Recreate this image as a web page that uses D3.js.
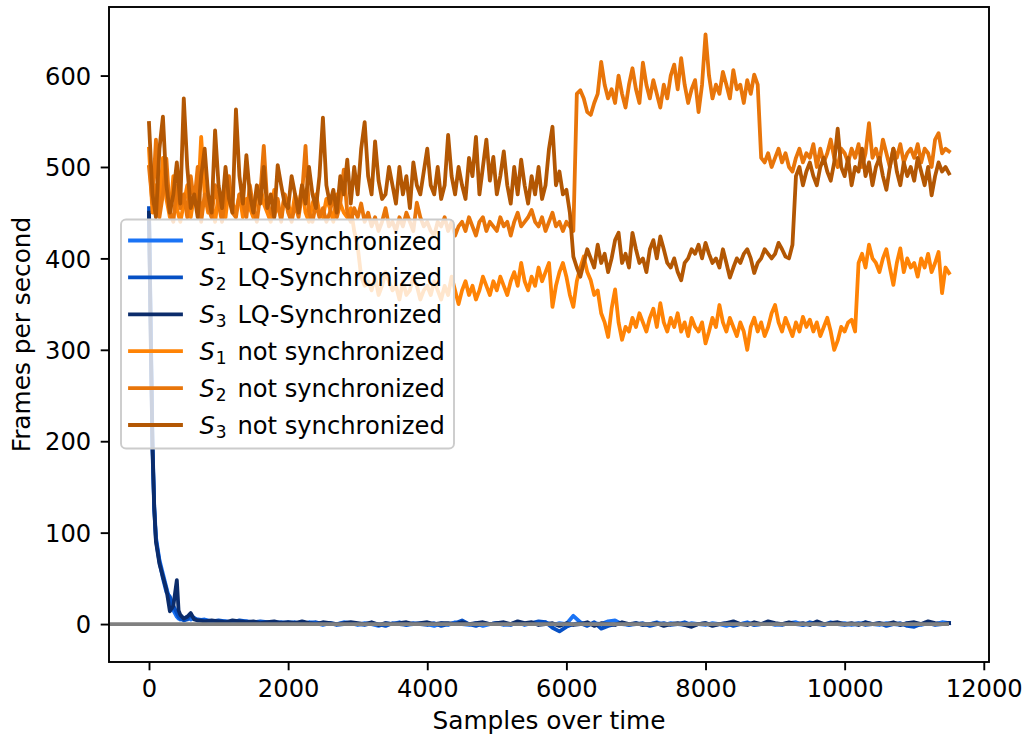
<!DOCTYPE html>
<html>
<head>
<meta charset="utf-8">
<script src="https://cdn.jsdelivr.net/npm/d3@7"></script>
<style>
  html, body { margin: 0; padding: 0; background: #ffffff; }
  svg { display: block; font-family: "DejaVu Sans", sans-serif; }
</style>
</head>
<body>
<svg id="chart" width="1027" height="737"></svg>
<script>
// ---------------- DATA ----------------
const xTicks = [0, 2000, 4000, 6000, 8000, 10000, 12000];
const yTicks = [0, 100, 200, 300, 400, 500, 600];
const xLabel = "Samples over time";
const yLabel = "Frames per second";

// not-synchronized series: one value every 50 samples, 0 .. 11500
const orangeStep = 50;
const s1Not = [
  520,450,480,460,510,465,445,490,455,440,
  460,480,445,470,455,533,470,450,460,440,
  470,455,445,480,460,450,470,445,465,455,
  445,470,480,460,450,440,475,455,445,470,
  460,445,470,455,480,450,440,460,470,450,
  445,465,455,440,470,460,450,445,455,430,
  413,380,370,375,365,380,360,370,385,375,
  365,370,355,375,360,365,380,370,355,365,
  370,360,375,365,355,370,360,380,365,350,
  365,375,360,370,355,365,380,370,360,375,
  365,380,370,360,375,385,370,395,375,365,
  380,370,390,375,385,395,347,370,385,395,
  380,360,347,375,390,402,385,376,360,365,
  340,330,314,345,366,330,311,325,320,335,
  325,340,330,320,335,345,325,351,330,320,
  335,325,340,320,330,315,335,325,320,330,
  307,320,335,325,349,330,320,335,325,315,
  330,320,300,325,335,320,330,315,325,340,
  349,330,320,335,325,315,330,320,336,325,
  333,320,330,315,325,335,320,300,310,325,
  320,330,333,320,395,405,390,415,400,395,
  385,400,410,390,371,395,411,385,400,390,
  395,380,400,390,405,385,395,407,362,390,
  384
];
const s2Not = [
  500,460,530,445,470,509,450,440,480,455,
  470,445,490,460,500,440,470,455,445,480,
  460,440,470,490,450,445,470,460,445,480,
  455,440,470,523,460,450,445,465,440,470,
  450,440,460,445,470,523,450,440,460,445,
  455,440,450,470,445,460,497,450,440,455,
  445,460,440,450,435,445,430,440,455,435,
  440,430,445,435,450,440,430,461,445,435,
  440,430,425,440,435,445,430,440,425,435,
  440,430,445,435,425,440,445,430,440,435,
  430,445,435,440,425,440,450,435,440,445,
  453,440,435,445,430,440,450,435,440,430,
  440,435,430,580,584,575,560,557,570,580,
  615,590,575,585,570,600,580,565,590,608,
  585,570,614,590,575,595,580,565,590,575,
  600,612,585,619,590,570,585,595,560,590,
  645,600,575,590,580,604,590,575,606,585,
  590,570,595,580,601,590,510,505,515,500,
  510,520,505,515,500,495,510,520,505,515,
  510,525,500,520,505,515,530,510,500,520,
  515,505,520,510,525,500,515,548,510,520,
  505,530,515,500,520,510,525,505,515,520,
  510,525,505,520,515,500,530,537,515,520,
  517
];
const s3Not = [
  548,470,445,520,555,480,450,470,505,460,
  575,500,455,470,445,490,520,470,450,540,
  480,455,500,465,450,563,490,460,513,470,
  450,480,460,500,455,470,445,502,480,460,
  455,490,470,450,480,460,500,470,455,490,
  554,480,460,475,450,490,470,508,460,500,
  470,520,549,490,470,528,485,465,470,500,
  480,460,500,470,490,455,505,480,470,495,
  520,480,470,500,465,480,535,490,470,500,
  480,465,510,490,533,470,500,530,485,511,
  470,490,517,480,460,500,470,508,480,460,
  490,470,500,465,480,520,544,480,495,470,
  475,450,402,390,380,395,410,400,390,415,
  395,405,385,400,420,428,395,405,390,428,
  410,395,400,385,410,420,400,424,410,395,
  390,400,385,376,395,400,410,405,415,400,
  417,405,395,400,390,410,395,379,390,400,
  395,405,410,400,384,395,400,410,405,400,
  405,417,410,402,400,415,490,500,480,495,
  505,490,480,500,510,495,485,505,542,500,
  490,510,480,500,495,520,490,505,480,500,
  510,490,475,500,520,495,480,505,490,500,
  485,510,495,480,500,469,490,505,495,500,
  493
];

// LQ-synchronized series: sample positions and values
const lqSamples = [
  0,25,50,75,100,150,200,250,300,350,400,425,450,500,550,600,650,700,800,900,
  1000,1100,1200,1300,1400,1500,1600,1700,1800,1900,
  2000,2100,2200,2300,2400,2500,2600,2700,2800,2900,
  3000,3100,3200,3300,3400,3500,3600,3700,3800,3900,
  4000,4100,4200,4300,4400,4500,4600,4700,4800,4900,
  5000,5100,5200,5300,5400,5500,5600,5700,5800,5900,
  6000,6100,6200,6300,6400,6500,6600,6700,6800,6900,
  7000,7100,7200,7300,7400,7500,7600,7700,7800,7900,
  8000,8100,8200,8300,8400,8500,8600,8700,8800,8900,
  9000,9100,9200,9300,9400,9500,9600,9700,9800,9900,
  10000,10100,10200,10300,10400,10500,10600,10700,10800,10900,
  11000,11100,11200,11300,11400,11500
];
const s1LQ = [
  450,330,200,130,95,70,55,40,25,15,8,6,5,6,8,5,7,4,5,3,
  2,3,1,2,3,1,2,0,2,1,
  2,1,0,2,1,-1,1,0,2,1,
  -1,1,0,-2,1,0,2,-1,0,1,
  0,-2,1,-1,2,0,-1,1,-2,0,
  1,-1,0,2,-1,1,0,2,-1,1,
  0,9,2,-1,1,0,3,4,0,-1,
  1,-1,0,2,-1,1,0,-1,1,0,
  -1,1,0,-2,1,0,2,-1,0,1,
  -1,0,1,2,-1,0,1,-1,2,0,
  1,-1,0,2,0,-1,1,0,-1,1,
  0,-1,1,0,2,1
];
const s2LQ = [
  455,320,190,125,92,68,50,35,30,20,12,8,6,4,5,10,6,5,4,3,
  4,3,2,4,3,2,3,2,1,2,
  1,2,0,1,2,0,1,-1,0,1,
  0,-1,1,0,-2,1,0,-1,1,0,
  -1,1,-2,0,1,4,0,-2,1,0,
  1,0,-1,2,0,1,3,2,-4,-8,
  -3,0,1,-2,2,-5,-2,0,1,-1,
  0,1,-2,0,1,-1,0,2,-1,0,
  1,-1,0,1,-2,0,1,-1,0,1,
  0,-1,1,0,-1,2,0,-1,1,0,
  -1,0,1,-1,0,1,-2,0,1,-2,
  -3,0,1,-1,0,1
];
const s3LQ = [
  450,310,195,128,90,66,52,38,14,20,48,15,10,6,8,12,5,4,3,4,
  3,2,4,3,2,3,1,2,3,1,
  2,1,3,1,0,2,1,0,1,2,
  1,0,2,-1,1,0,1,2,0,1,
  2,0,1,1,0,2,0,1,2,0,
  1,2,0,3,1,2,-1,0,1,-2,
  1,-1,0,2,-2,1,0,-1,2,0,
  1,-1,0,1,-2,0,1,-1,-3,0,
  1,-2,0,1,3,0,-1,2,0,3,
  1,0,2,0,1,-1,3,0,1,2,
  0,1,-1,2,0,1,0,2,-1,1,
  2,0,3,1,0,1
];
const zeroLine = [{x: -1000, y: 0}, {x: 11500, y: 0}];

const seriesNames = ["1", "2", "3", "1", "2", "3"];
const seriesSuffix = [" LQ-Synchronized", " LQ-Synchronized", " LQ-Synchronized",
                      " not synchronized", " not synchronized", " not synchronized"];
const seriesColors = ["#1a73f5", "#0650c4", "#0b2c6b", "#ff8305", "#e8750a", "#b35703"];

// ---------------- BUILD ----------------
const toPts = (vals) => vals.map((v, i) => ({x: i * orangeStep, y: v}));
const toLQ = (vals) => vals.map((v, i) => ({x: lqSamples[i], y: v}));
const allSeries = [
  toLQ(s1LQ), toLQ(s2LQ), toLQ(s3LQ),
  toPts(s1Not), toPts(s2Not), toPts(s3Not)
];

const FS = 24.2;
const LW = 3.8;
const L = 109, R = 989, T = 7, B = 662;
const svg = d3.select("#chart");

const x = d3.scaleLinear().domain([-575, 12075]).range([L, R]);
const y = d3.scaleLinear().domain([-41.5, 675]).range([B, T]);

svg.append("defs").append("clipPath").attr("id", "clip")
  .append("rect").attr("x", L).attr("y", T).attr("width", R - L).attr("height", B - T);

const line = d3.line().x(d => x(d.x)).y(d => y(d.y));
const plot = svg.append("g").attr("clip-path", "url(#clip)");

allSeries.forEach((s, i) => {
  plot.append("path").datum(s)
    .attr("d", line)
    .attr("fill", "none")
    .attr("stroke", seriesColors[i])
    .attr("stroke-width", LW)
    .attr("stroke-linejoin", "round")
    .attr("stroke-linecap", "square");
});

plot.append("path").datum(zeroLine)
  .attr("d", line)
  .attr("fill", "none")
  .attr("stroke", "#808080")
  .attr("stroke-width", LW);

// axes
const xAxis = svg.append("g").attr("transform", `translate(0,${B})`)
  .call(d3.axisBottom(x).tickValues(xTicks).tickSize(8.3).tickPadding(10).tickFormat(d3.format("d")));
const yAxis = svg.append("g").attr("transform", `translate(${L},0)`)
  .call(d3.axisLeft(y).tickValues(yTicks).tickSize(8.3).tickPadding(9.5).tickFormat(d3.format("d")));
[xAxis, yAxis].forEach(g => {
  g.select(".domain").remove();
  g.selectAll(".tick line").attr("stroke", "#000").attr("stroke-width", 1.9);
  g.selectAll(".tick text").attr("fill", "#000").style("font-size", FS + "px")
    .style("font-family", '"DejaVu Sans", sans-serif');
});
yAxis.selectAll(".tick text").attr("dy", "0.36em");

// frame
svg.append("rect").attr("x", L).attr("y", T).attr("width", R - L).attr("height", B - T)
  .attr("fill", "none").attr("stroke", "#000").attr("stroke-width", 1.9);

// axis labels
svg.append("text").attr("x", (L + R) / 2).attr("y", 729)
  .attr("text-anchor", "middle").style("font-size", "24.8px").text(xLabel);
svg.append("text").attr("transform", `translate(29.5,${(T + B) / 2}) rotate(-90)`)
  .attr("text-anchor", "middle").style("font-size", "24.8px").text(yLabel);

// legend
const lg = svg.append("g");
lg.append("rect").attr("x", 121).attr("y", 219.5).attr("width", 333).attr("height", 229)
  .attr("rx", 5).attr("ry", 5)
  .attr("fill", "#ffffff").attr("fill-opacity", 0.8)
  .attr("stroke", "#cccccc").attr("stroke-width", 1.9);

const rowY = d3.scaleLinear().domain([0, 5]).range([240.5, 425]);
seriesNames.forEach((nm, i) => {
  const cy = rowY(i);
  lg.append("line").attr("x1", 130).attr("x2", 181).attr("y1", cy).attr("y2", cy)
    .attr("stroke", seriesColors[i]).attr("stroke-width", LW).attr("stroke-linecap", "square");
  const t = lg.append("text").attr("x", 199.5).attr("y", cy + 9)
    .style("font-size", FS + "px").style("white-space", "pre");
  t.append("tspan").style("font-style", "italic").text("S");
  t.append("tspan").style("font-size", "17px").attr("dx", 1).attr("dy", 4).text(nm);
  t.append("tspan").attr("dy", -4).attr("dx", 3).text(seriesSuffix[i]);
});
</script>
</body>
</html>
